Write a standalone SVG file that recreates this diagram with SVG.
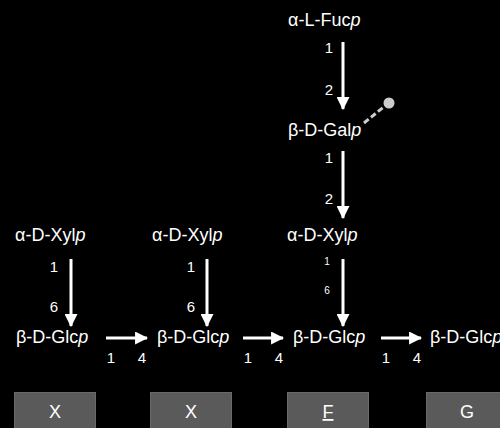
<svg xmlns="http://www.w3.org/2000/svg" width="500" height="428" viewBox="0 0 500 428">
<style>
.t{font-family:"Liberation Sans",Arial,sans-serif;font-size:18px;fill:#fff}
.n{font-family:"Liberation Sans",Arial,sans-serif;font-size:15px;fill:#fff;text-anchor:middle}
.s{font-family:"Liberation Sans",Arial,sans-serif;font-size:10px;fill:#fff;text-anchor:middle}
.a{stroke:#fff;stroke-width:3;fill:none}
.box{fill:#5a5a5a;stroke:#6a6a6a;stroke-width:1}
.bl{font-family:"Liberation Sans",Arial,sans-serif;font-size:18px;fill:#fff;text-anchor:middle}
</style>
<defs>
<marker id="ah" markerUnits="userSpaceOnUse" markerWidth="13" markerHeight="13" viewBox="0 0 12 12" refX="11" refY="6" orient="auto">
<path d="M0,0 L12,6 L0,12 Z" fill="#fff"/>
</marker>
</defs>
<rect width="500" height="428" fill="#000"/>
<g id="connectors">
<line class="a" x1="343" y1="42" x2="343" y2="109" marker-end="url(#ah)"/>
<line class="a" x1="343" y1="151" x2="343" y2="218" marker-end="url(#ah)"/>
<line class="a" x1="343" y1="259" x2="343" y2="326" marker-end="url(#ah)"/>
<line class="a" x1="71" y1="259" x2="71" y2="326" marker-end="url(#ah)"/>
<line class="a" x1="207" y1="259" x2="207" y2="326" marker-end="url(#ah)"/>
<line class="a" x1="106" y1="338" x2="147" y2="338" marker-end="url(#ah)"/>
<line class="a" x1="243" y1="338" x2="283" y2="338" marker-end="url(#ah)"/>
<line class="a" x1="381" y1="338" x2="421" y2="338" marker-end="url(#ah)"/>
<line x1="364" y1="123" x2="386" y2="105" stroke="#cccccc" stroke-width="3" stroke-dasharray="6,3"/>
<circle cx="389" cy="103" r="5.5" fill="#cccccc"/>
<text class="n" x="329" y="53">1</text>
<text class="n" x="329" y="95">2</text>
<text class="n" x="329" y="163">1</text>
<text class="n" x="329" y="204">2</text>
<text class="s" x="327" y="265">1</text>
<text class="s" x="327" y="294">6</text>
<text class="n" x="54" y="272">1</text>
<text class="n" x="54" y="312">6</text>
<text class="n" x="191" y="272">1</text>
<text class="n" x="191" y="312">6</text>
<text class="n" x="111" y="363">1</text>
<text class="n" x="142" y="363">4</text>
<text class="n" x="248" y="363">1</text>
<text class="n" x="279" y="363">4</text>
<text class="n" x="386" y="363">1</text>
<text class="n" x="417" y="363">4</text>
</g>
<g id="fuc"><text class="t" x="288" y="26">α-L-Fuc<tspan font-style="italic">p</tspan></text></g>
<g id="gal"><text class="t" x="288" y="136">β-D-Gal<tspan font-style="italic">p</tspan></text></g>
<g id="xyl3"><text class="t" x="287" y="241">α-D-Xyl<tspan font-style="italic">p</tspan></text></g>
<g id="xyl1"><text class="t" x="15" y="241">α-D-Xyl<tspan font-style="italic">p</tspan></text></g>
<g id="xyl2"><text class="t" x="152" y="241">α-D-Xyl<tspan font-style="italic">p</tspan></text></g>
<g id="glc1"><text class="t" x="16" y="343">β-D-Glc<tspan font-style="italic">p</tspan></text></g>
<g id="glc2"><text class="t" x="157" y="343">β-D-Glc<tspan font-style="italic">p</tspan></text></g>
<g id="glc3"><text class="t" x="293" y="343">β-D-Glc<tspan font-style="italic">p</tspan></text></g>
<g id="glc4"><text class="t" x="430" y="343">β-D-Glc<tspan font-style="italic">p</tspan></text></g>
<g id="boxX1"><rect class="box" x="14.5" y="392.5" width="81" height="40"/><text class="bl" x="55" y="418">X</text></g>
<g id="boxX2"><rect class="box" x="150.5" y="392.5" width="81" height="40"/><text class="bl" x="191" y="418">X</text></g>
<g id="boxF"><rect class="box" x="287.5" y="392.5" width="81" height="40"/><text class="bl" x="328" y="418" text-decoration="underline">F</text></g>
<g id="boxG"><rect class="box" x="426.5" y="392.5" width="81" height="40"/><text class="bl" x="467" y="418">G</text></g>
</svg>
